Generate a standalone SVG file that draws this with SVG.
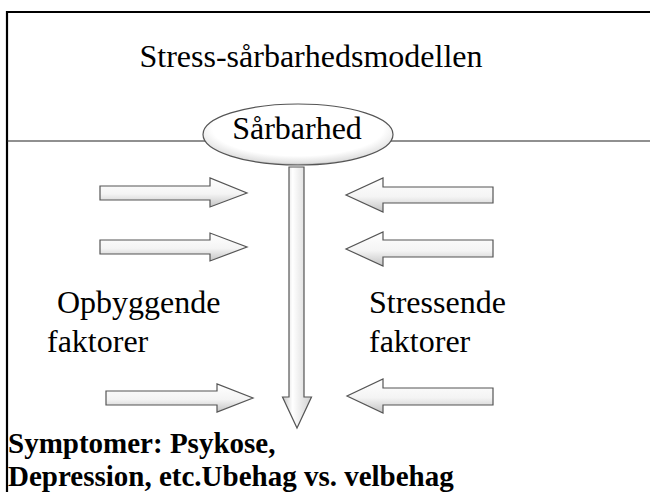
<svg xmlns="http://www.w3.org/2000/svg" width="650" height="492" viewBox="0 0 650 492">
<defs>
<style>
.t{font-family:"Liberation Serif","Times New Roman",serif;font-size:32px;fill:#000}
.b{font-family:"Liberation Serif","Times New Roman",serif;font-size:29px;font-weight:bold;fill:#000}
.arr{fill:url(#ag);stroke:#555;stroke-width:1.2;stroke-linejoin:miter}
.arrv{fill:url(#agv);stroke:#555;stroke-width:1.2}
</style>
<linearGradient id="ag" x1="0" y1="0" x2="0" y2="1">
<stop offset="0" stop-color="#ffffff"/>
<stop offset="0.55" stop-color="#f4f4f4"/>
<stop offset="1" stop-color="#c4c4c4"/>
</linearGradient>
<linearGradient id="agv" x1="0" y1="0" x2="1" y2="0">
<stop offset="0" stop-color="#c8c8c8"/>
<stop offset="0.35" stop-color="#ffffff"/>
<stop offset="1" stop-color="#d0d0d0"/>
</linearGradient>
<radialGradient id="eg" cx="0.5" cy="0.4" r="0.6">
<stop offset="0.75" stop-color="#ffffff"/>
<stop offset="0.95" stop-color="#e0e0e0"/>
<stop offset="1" stop-color="#a8a8a8"/>
</radialGradient>
</defs>
<rect width="650" height="492" fill="#fff"/>
<g id="frame">
<path d="M7 492 V12 H650" fill="none" stroke="#000" stroke-width="2.2"/>
<line x1="7" y1="141" x2="650" y2="141" stroke="#222" stroke-width="1.2"/>
</g>
<g id="title"><text class="t" x="311" y="67" text-anchor="middle">Stress-sårbarhedsmodellen</text></g>
<g id="connectors">
<path class="arrv" d="M289 167 H304 V397 H311.5 L297 428 L282.5 397 H289 Z"/>
<path class="arr" d="M100 186 H210 V178 L247 193 L210 207 V200 H100 Z"/>
<path class="arr" d="M100 240 H210 V233 L247 247 L210 261 V254 H100 Z"/>
<path class="arr" d="M106 391 H217 V384 L253 398 L217 412 V405 H106 Z"/>
<path class="arr" d="M493 187 H383 V178 L346 195 L383 212 V203 H493 Z"/>
<path class="arr" d="M493 240 H383 V232 L346 249 L383 266 V257 H493 Z"/>
<path class="arr" d="M493 388 H383 V379 L347 396 L383 413 V405 H493 Z"/>
</g>
<g id="sarbarhed">
<ellipse cx="298" cy="134.5" rx="95" ry="30.5" fill="url(#eg)" stroke="#555" stroke-width="1.2"/>
<text class="t" x="297" y="139" text-anchor="middle">Sårbarhed</text>
</g>
<g id="opbyggende">
<text class="t" x="57" y="313">Opbyggende</text>
<text class="t" x="47" y="352">faktorer</text>
</g>
<g id="stressende">
<text class="t" x="369" y="313">Stressende</text>
<text class="t" x="369" y="352">faktorer</text>
</g>
<g id="symptomer">
<text class="b" x="8" y="453">Symptomer: Psykose,</text>
<text class="b" x="8" y="486">Depression, etc.Ubehag vs. velbehag</text>
</g>
</svg>
